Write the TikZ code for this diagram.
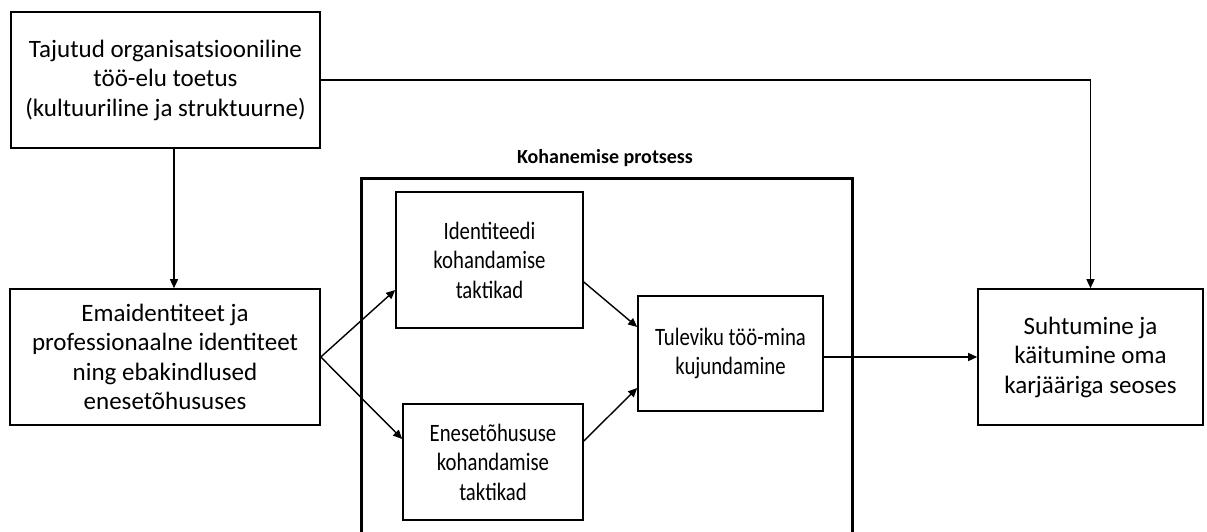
\documentclass[tikz,border=0pt]{standalone}
\usepackage{fontspec}
\setmainfont{Carlito}
\newfontfamily\narrowfont[FakeStretch=0.83]{Carlito}
\usetikzlibrary{arrows.meta}
\begin{document}
\begin{tikzpicture}[x=1pt,y=-1pt,
  box/.style={draw,line width=1.6pt,inner sep=0pt,align=center,font=\fontsize{25}{29.5}\selectfont},
  inbox/.style={box,font=\narrowfont\fontsize{25}{29.5}\selectfont},
  arr/.style={line width=1.4pt,-{Triangle[length=9pt,width=8pt]}},
  frame/.style={line width=3pt}]
\useasboundingbox (0,0) rectangle (1207,532);
\node[box,minimum width=309pt,minimum height=136pt] (A) at (165.5,80) {Tajutud organisatsiooniline\\töö-elu toetus\\(kultuuriline ja struktuurne)};
\node[box,minimum width=310pt,minimum height=136pt] (B) at (165,357) {Emaidentiteet ja\\professionaalne identiteet\\ning ebakindlused\\enesetõhususes};
\node[inbox,minimum width=187pt,minimum height=136pt] (C) at (489.5,260) {Identiteedi\\kohandamise\\taktikad};
\node[inbox,minimum width=180pt,minimum height=116pt] (D) at (493,462) {Enesetõhususe\\kohandamise\\taktikad};
\node[inbox,minimum width=185pt,minimum height=115pt] (E) at (730.5,353.5) {Tuleviku töö-mina\\kujundamine};
\node[box,minimum width=225pt,minimum height=136pt] (F) at (1090.5,357) {Suhtumine ja\\käitumine oma\\karjääriga seoses};
\coordinate (K1) at (361,532);
\coordinate (K2) at (361,178);
\coordinate (K3) at (852,178);
\coordinate (K4) at (852,532);
\draw[frame] (K1) -- (K2) -- (K3) -- (K4);
\node[font=\fontsize{20}{24}\selectfont\bfseries,anchor=base] (T) at (605,163) {Kohanemise protsess};
\draw[arr] ([xshift=8.5pt]A.south) -- ([xshift=8.5pt]A.south |- B.north);
\draw[arr] (A.east) -| (F.north);
\draw[arr] (B.east) -- ([yshift=-30pt]C.west);
\draw[arr] (B.east) -- ([yshift=23pt]D.west);
\draw[arr] ([yshift=-22pt]C.east) -- ([yshift=26.5pt]E.west);
\draw[arr] ([yshift=21pt]D.east) -- ([yshift=-34.5pt]E.west);
\draw[arr] ([yshift=-3.5pt]E.east) -- ([yshift=-3.5pt]E.east -| F.west);
\end{tikzpicture}
\end{document}
